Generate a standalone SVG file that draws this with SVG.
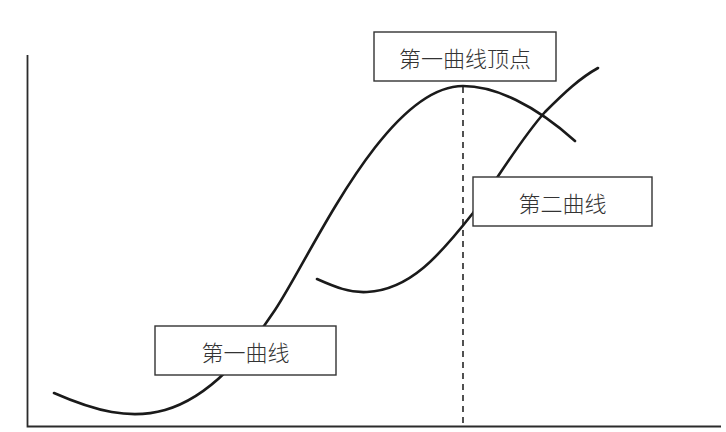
<svg xmlns="http://www.w3.org/2000/svg" width="726" height="432" viewBox="0 0 726 432">
<style>
.axis{fill:none;stroke:#2b2b2b;stroke-width:1.8}
.curve{fill:none;stroke:#1a1a1a;stroke-width:2.6;stroke-linecap:round}
.dash{fill:none;stroke:#333;stroke-width:1.7;stroke-dasharray:6 5}
.box{fill:#fff;stroke:#333;stroke-width:1.4}
.lbl{font-family:"Noto Sans CJK SC","Noto Sans CJK JP",sans-serif;font-size:22px;font-weight:300;fill:#333;text-anchor:middle;dominant-baseline:central}
</style>
<rect width="726" height="432" fill="#fff"/>
<g id="connectors">
<path class="axis" d="M27.5,55 V426.5 H721"/>
<path class="dash" d="M463,87 V426"/>
<path id="curve1" class="curve" d="M54,393 C95,411 130,420 165,410 C210,397 245,355 275,310 C310,258 385,86 463,86 C495,86 535,105 575,141"/>
<path id="curve2" class="curve" d="M317,279 C335,287 350,293 367,292 C410,290 440,255 473,213 C500,175 520,140 545,112 C565,92 580,78 598,68"/>
</g>
<g id="node-peak">
<rect class="box" x="374" y="32" width="182" height="49"/>
<text class="lbl" x="465" y="56.5">第一曲线顶点</text>
</g>
<g id="node-second">
<rect class="box" x="473" y="177" width="179" height="49"/>
<text class="lbl" x="562.5" y="201.5">第二曲线</text>
</g>
<g id="node-first">
<rect class="box" x="155" y="326" width="181" height="49"/>
<text class="lbl" x="245.5" y="350.5">第一曲线</text>
</g>
</svg>
